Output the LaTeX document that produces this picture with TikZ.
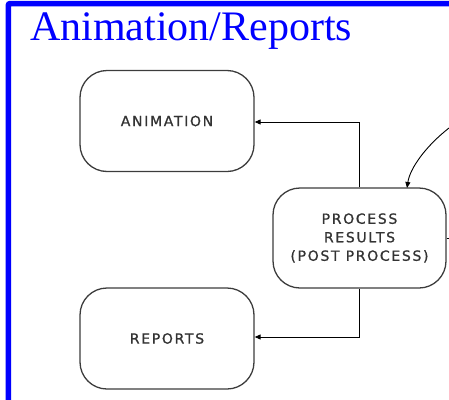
\documentclass[tikz,border=0pt]{standalone}
\usepackage{fontspec}
\setmainfont{Liberation Serif}
\newfontfamily\boxfont[LetterSpace=12,FakeBold=1]{DejaVu Sans}
\usetikzlibrary{arrows.meta}
\definecolor{framebl}{RGB}{0,0,255}
\definecolor{edgegray}{RGB}{60,60,60}
\begin{document}
\begin{tikzpicture}[x=1pt,y=-1pt,
  stepbox/.style={draw=edgegray,line width=1.3pt,rounded corners=27pt,
    minimum width=174pt,minimum height=101pt,inner sep=0pt,align=center,
    font=\boxfont\fontsize{14}{18.5}\selectfont,text=black!80},
  flow/.style={draw=black,line width=0.9pt,-{Triangle[length=6pt,width=5pt]}}]
\useasboundingbox (0,0) rectangle (449,399);
% blue frame along the left and top
\draw[framebl,line width=5.5pt,rounded corners=2pt] (8.25,400) -- (8.25,3.5) -- (450,3.5);
% heading
\node[anchor=base west,inner sep=0pt,text=framebl,font=\fontsize{42}{46}\selectfont] (title) at (30,40) {Animation/Reports};
% process boxes
\node[stepbox] (anim) at (167,121) {ANIMATION};
\node[stepbox] (rep) at (167,338.5) {REPORTS};
\node[stepbox,minimum width=173pt,minimum height=100pt] (pr) at (359.5,238) {PROCESS\\RESULTS\\(POST PROCESS)};
% connectors
\coordinate (bendA) at (359,122);
\coordinate (bendR) at (359,337);
\draw[flow] (pr.north -| bendA) -- (bendA) -- (anim.east |- bendA);
\draw[flow] (pr.south -| bendR) -- (bendR) -- (rep.east |- bendR);
\coordinate (cin) at (449,128);
\coordinate (ctip) at (407,188);
\draw[flow] (cin) .. controls (426,146) and (410,168) .. (ctip);
\coordinate (rout) at (450,238);
\draw[black,line width=0.9pt] (pr.east) -- (rout);
\end{tikzpicture}
\end{document}
